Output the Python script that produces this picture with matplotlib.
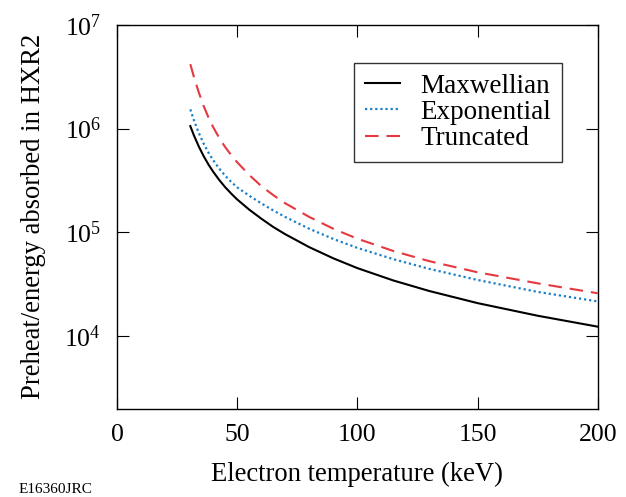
import matplotlib
matplotlib.use("Agg")
import matplotlib.pyplot as plt

plt.rcParams['font.family'] = ['Liberation Serif', 'DejaVu Serif']
plt.rcParams['mathtext.fontset'] = 'custom'
plt.rcParams['mathtext.rm'] = 'Liberation Serif'
plt.rcParams['mathtext.it'] = 'Liberation Serif:italic'

temperature = [30.5, 32, 34, 36, 38, 40, 42.5, 45, 47.5, 50, 55, 60, 65, 70, 80, 90,
               100, 115, 130, 150, 175, 200]
maxwellian = [1.057e6, 8.60e5, 6.75e5, 5.46e5, 4.53e5, 3.85e5, 3.21e5, 2.73e5, 2.37e5,
              2.08e5, 1.66e5, 1.36e5, 1.13e5, 9.62e4, 7.22e4, 5.64e4, 4.54e4, 3.45e4,
              2.73e4, 2.09e4, 1.58e4, 1.24e4]
exponential = [1.531e6, 1.205e6, 9.12e5, 7.21e5, 5.90e5, 4.97e5, 4.13e5, 3.52e5, 3.07e5,
               2.72e5, 2.26e5, 1.91e5, 1.63e5, 1.41e5, 1.086e5, 8.66e4, 7.11e4, 5.53e4,
               4.46e4, 3.49e4, 2.68e4, 2.17e4]
truncated = [4.17e6, 3.14e6, 2.24e6, 1.66e6, 1.29e6, 1.034e6, 8.16e5, 6.64e5, 5.56e5,
             4.74e5, 3.58e5, 2.80e5, 2.29e5, 1.91e5, 1.41e5, 1.086e5, 8.71e4, 6.63e4,
             5.29e4, 4.14e4, 3.24e4, 2.6e4]

xticks = [0, 50, 100, 150, 200]
yticks = [1e4, 1e5, 1e6, 1e7]
ytick_labels = ['$10^{4}$', '$10^{5}$', '$10^{6}$', '$10^{7}$']

fig = plt.figure(figsize=(6.26, 4.97), dpi=100)
ax = fig.add_axes([0.1869, 0.1771, 0.7679, 0.7732])

ax.plot(temperature, maxwellian, color='black', lw=1.5, label='Maxwellian')
ax.plot(temperature, exponential, color='#1a80c8', lw=1.6, dashes=(1, 1.3), label='Exponential')
ax.plot(temperature, truncated, color='#e6383f', lw=1.5, dashes=(6.5, 3.8), label='Truncated')

ax.set_yscale('log')
ax.set_xlim(0, 200)
ax.set_ylim(2000, 1e7)
ax.set_xticks(xticks)
ax.set_yticks(yticks)
ax.set_yticklabels(ytick_labels)
ax.yaxis.set_minor_locator(matplotlib.ticker.NullLocator())
ax.tick_params(direction='in', length=8.6, width=0.8, labelsize=18.5,
               top=True, right=True)
ax.tick_params(axis='x', pad=10.5)
ax.tick_params(axis='y', pad=11.5)
for s in ax.spines.values():
    s.set_linewidth(1.0)

ax.set_xlabel('Electron temperature (keV)', fontsize=19.2, labelpad=12)
ax.set_ylabel('Preheat/energy absorbed in HXR2', fontsize=19.2, labelpad=13)

leg = ax.legend(loc='upper right', bbox_to_anchor=(0.9257, 0.9003), fontsize=19.5,
                frameon=True, fancybox=False, edgecolor='black', handlelength=1.3,
                handletextpad=0.75, borderpad=0.4, labelspacing=0.04, borderaxespad=0)
leg.get_frame().set_linewidth(1.0)

fig.text(0.029, 0.008, 'E16360JRC', fontsize=11)

fig.savefig('out.png', dpi=100)
